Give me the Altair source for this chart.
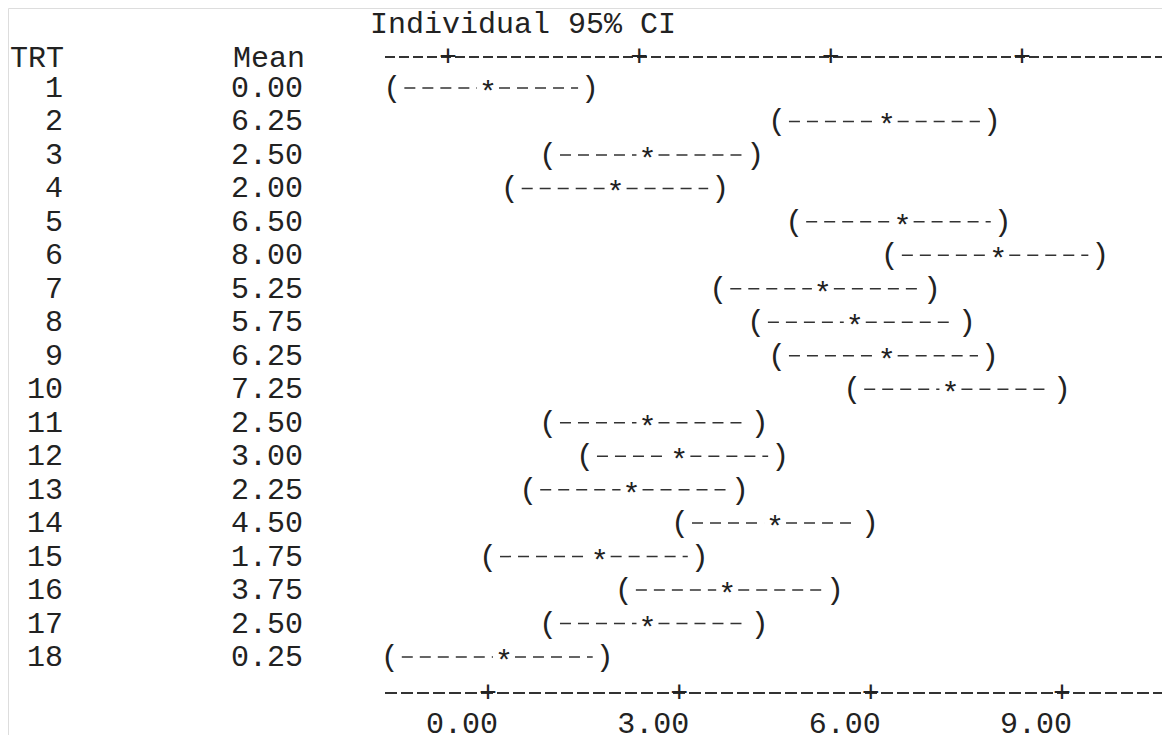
import altair as alt
import pandas as pd

# ---- data ----
trt = list(range(1, 19))
means = [0.00, 6.25, 2.50, 2.00, 6.50, 8.00, 5.25, 5.75, 6.25, 7.25,
         2.50, 3.00, 2.25, 4.50, 1.75, 3.75, 2.50, 0.25]
lower = [-1.50, 4.53, 0.94, 0.34, 4.80, 6.30, 3.61, 4.20, 4.53, 5.71,
         0.94, 1.52, 0.63, 3.01, 0.00, 2.13, 0.94, -1.54]
upper = [1.60, 7.90, 4.19, 3.64, 8.07, 9.60, 6.96, 7.51, 7.87, 9.00,
         4.26, 4.58, 3.95, 5.99, 3.32, 5.44, 4.26, 1.83]
tick_vals = [0, 3, 6, 9]
tick_labels = ["0.00", "3.00", "6.00", "9.00"]
title_text = "Individual 95% CI"
col_headers = ["TRT", "Mean"]

FONT = "Liberation Mono"
FS = 30
INK = "#222222"
DASH = "#333333"

W, H = 1154, 727
xscale = alt.Scale(domain=[-7.526, 10.567], nice=False, zero=False)
yscale = alt.Scale(domain=[-1.390, 20.331], nice=False, zero=False, reverse=True)

df = pd.DataFrame({
    "trt": trt,
    "trt_label": [str(t) for t in trt],
    "mean": means,
    "mean_label": [f"{m:.2f}" for m in means],
    "lower": lower,
    "upper": upper,
})
ticks = pd.DataFrame({"v": tick_vals, "label": tick_labels})

base = alt.Chart(df)
X = lambda f: alt.X(f, type="quantitative", scale=xscale, axis=None)
Y = alt.Y("trt:Q", scale=yscale, axis=None)

txt = dict(font=FONT, fontSize=FS, color=INK, baseline="middle")

trt_col = base.mark_text(align="right", **txt).encode(
    x=alt.value(55), y=Y, text="trt_label:N")
mean_col = base.mark_text(align="right", **txt).encode(
    x=alt.value(295), y=Y, text="mean_label:N")

left_dash = base.mark_rule(strokeDash=[11, 7], strokeWidth=1.5, color=DASH,
                           xOffset=12, x2Offset=-11).encode(
    x=X("lower"), x2="mean", y=Y)
right_dash = base.mark_rule(strokeDash=[11, 7], strokeWidth=1.5, color=DASH,
                            xOffset=11, x2Offset=-12).encode(
    x=X("mean"), x2="upper", y=Y)
lparen = base.mark_text(align="center", text="(", **txt).encode(x=X("lower"), y=Y)
rparen = base.mark_text(align="center", text=")", **txt).encode(x=X("upper"), y=Y)
star = base.mark_text(align="center", text="*", dy=5, **txt).encode(x=X("mean"), y=Y)

hdr = pd.DataFrame({"h": col_headers})
trt_hdr = alt.Chart(hdr).transform_filter(alt.datum.h == "TRT").mark_text(
    align="center", **txt).encode(x=alt.value(29), y=alt.value(50), text="h:N")
mean_hdr = alt.Chart(hdr).transform_filter(alt.datum.h == "Mean").mark_text(
    align="right", **txt).encode(x=alt.value(297), y=alt.value(50), text="h:N")
title = alt.Chart(pd.DataFrame({"t": [title_text]})).mark_text(
    align="left", **txt).encode(x=alt.value(362), y=alt.value(16), text="t:N")

tc = alt.Chart(ticks)
top_line = tc.mark_rule(strokeDash=[10, 4], strokeWidth=1.5, color=DASH).encode(
    x=alt.value(377), x2=alt.value(W), y=alt.value(49))
top_plus = tc.mark_text(align="center", text="+", dx=-40, **txt).encode(
    x=X("v"), y=alt.value(49))
bot_line = tc.mark_rule(strokeDash=[12, 4], strokeWidth=1.5, color=DASH).encode(
    x=alt.value(377), x2=alt.value(W), y=alt.value(685))
bot_plus = tc.mark_text(align="center", text="+", **txt).encode(
    x=X("v"), y=alt.value(685))
bot_lab = tc.mark_text(align="center", dx=-26, font=FONT, fontSize=FS, color=INK,
                       baseline="alphabetic").encode(
    x=X("v"), y=alt.value(725), text="label:N")

chart = alt.layer(
    title, trt_hdr, mean_hdr, top_line, top_plus,
    trt_col, mean_col, left_dash, right_dash, lparen, rparen, star,
    bot_line, bot_plus, bot_lab,
).properties(
    width=W, height=H, padding=0,
    autosize=alt.AutoSizeParams(type="none"),
).configure_view(stroke="transparent", strokeWidth=0).configure(background="white")

chart.save("out.html", embed_options={"renderer": "svg", "actions": False})
